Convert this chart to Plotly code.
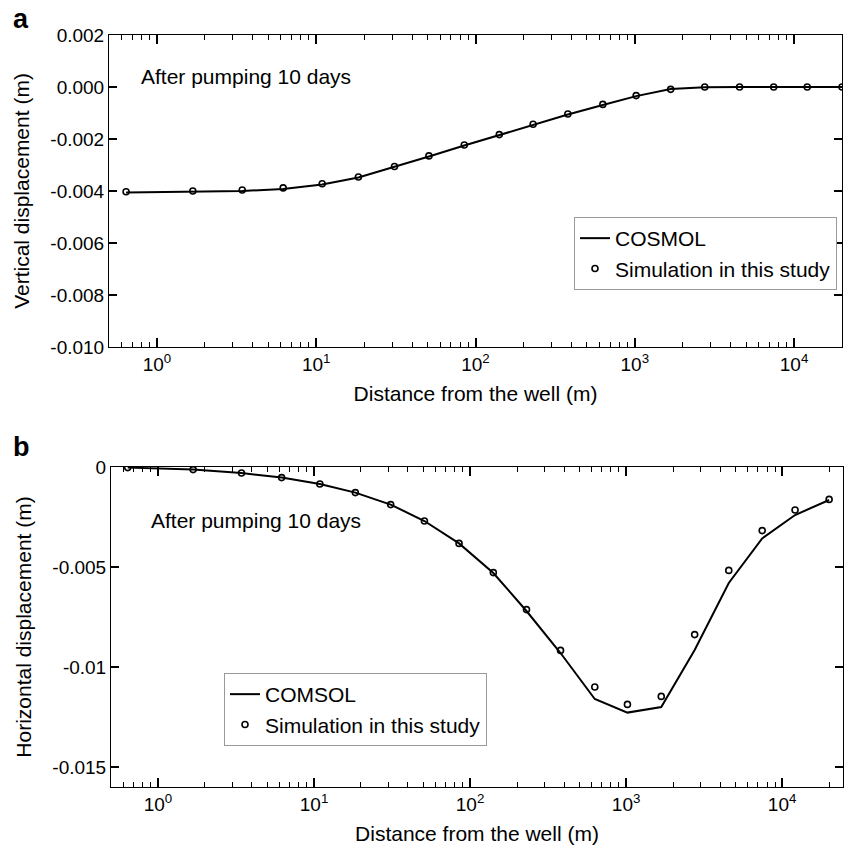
import plotly.graph_objects as go
import math

# ---------------- data ----------------
distance = [0.64, 1.68, 3.43, 6.2, 10.9, 18.4, 31, 51, 85, 141, 230, 380, 630,
            1020, 1680, 2750, 4550, 7450, 12100, 20000]

vert_comsol = [-0.00406, -0.00404, -0.00400, -0.00392, -0.00375, -0.00348, -0.00308,
               -0.00267, -0.00225, -0.00185, -0.00145, -0.00106, -0.00069, -0.00035,
               -0.00008, -0.00001, 0.0, 0.0, 0.0, 0.0]
vert_sim = [-0.00403, -0.00400, -0.00396, -0.00388, -0.00372, -0.00346, -0.00306,
            -0.00265, -0.00223, -0.00183, -0.00143, -0.00104, -0.00067, -0.00033,
            -0.00009, 0.0, 0.0, 0.0, 0.0, 0.0]

horiz_comsol = [-0.00003, -0.00013, -0.00030, -0.00053, -0.00085, -0.00128, -0.00188,
                -0.00270, -0.00382, -0.00530, -0.00720, -0.00930, -0.01160, -0.01228,
                -0.01200, -0.00915, -0.00580, -0.00357, -0.00240, -0.00165]
horiz_sim = [-0.00003, -0.00013, -0.00030, -0.00053, -0.00085, -0.00128, -0.00188,
             -0.00270, -0.00382, -0.00528, -0.00713, -0.00917, -0.01100, -0.01187,
             -0.01147, -0.00838, -0.00517, -0.00318, -0.00215, -0.00162]

x_major = [1, 10, 100, 1000, 10000]
x_major_text = ["10<sup>0</sup>", "10<sup>1</sup>", "10<sup>2</sup>", "10<sup>3</sup>", "10<sup>4</sup>"]

vert_ticks = [0.002, 0.0, -0.002, -0.004, -0.006, -0.008, -0.010]
vert_tick_text = ["0.002", "0.000", "-0.002", "-0.004", "-0.006", "-0.008", "-0.010"]
horiz_ticks = [0.0, -0.005, -0.01, -0.015]
horiz_tick_text = ["0", "-0.005", "-0.01", "-0.015"]

FONT = "Liberation Sans, Arial, sans-serif"
W, H = 846, 851
ML, MR, MT, MB = 109, 2, 35, 64
PW, PH = W - ML - MR, H - MT - MB


def px(xp):
    return (xp - ML) / PW


def py(yp):
    return 1 - (yp - MT) / PH


def clamp(v):
    return max(0.0, min(1.0, v))


fig = go.Figure()

line_style = dict(color="black", width=2)
marker_style = dict(symbol="circle-open", size=6, color="black", line=dict(width=1.6, color="black"))

fig.add_trace(go.Scatter(x=distance, y=vert_comsol, mode="lines", line=line_style,
                         name="COSMOL", xaxis="x", yaxis="y", legend="legend"))
fig.add_trace(go.Scatter(x=distance, y=vert_sim, mode="markers", marker=marker_style,
                         name="Simulation in this study", xaxis="x", yaxis="y", legend="legend"))
fig.add_trace(go.Scatter(x=distance, y=horiz_comsol, mode="lines", line=line_style,
                         name="COMSOL", xaxis="x2", yaxis="y2", legend="legend2"))
fig.add_trace(go.Scatter(x=distance, y=horiz_sim, mode="markers", marker=marker_style,
                         name="Simulation in this study", xaxis="x2", yaxis="y2", legend="legend2"))

X1_RANGE = [math.log10(0.5), math.log10(20000)]
X2_RANGE = [math.log10(0.5), 4.39]
X1_DOM = [clamp(px(109)), clamp(px(842))]
X2_DOM = [clamp(px(111)), clamp(px(843))]


def xaxis_common(rng, domain, **kw):
    d = dict(type="log", range=rng, domain=domain,
             tickmode="array", tickvals=x_major, ticktext=x_major_text,
             ticks="inside", ticklen=9, tickwidth=2, tickcolor="#000000",
             minor=dict(ticks="inside", ticklen=5, tickwidth=1, tickcolor="#000000",
                        dtick="D1"),
             showline=True, linecolor="black", mirror="allticks",
             gridcolor="rgba(0,0,0,0)",
             tickfont=dict(family=FONT, size=19, color="black"),
             title=dict(text="Distance from the well (m)",
                        font=dict(family=FONT, size=21, color="black"), standoff=12))
    d.update(kw)
    return d


def yaxis_common(rng, domain, vals, text, title, **kw):
    d = dict(range=rng, domain=domain,
             tickmode="array", tickvals=vals, ticktext=text,
             ticks="inside", ticklen=8, tickwidth=2, tickcolor="#000000",
             showline=True, linecolor="black", mirror="allticks",
             gridcolor="rgba(0,0,0,0)", zeroline=False,
             tickfont=dict(family=FONT, size=19, color="black"),
             title=dict(text=title, font=dict(family=FONT, size=21, color="black"), standoff=14))
    d.update(kw)
    return d


fig.update_layout(
    width=W, height=H,
    margin=dict(l=ML, r=MR, t=MT, b=MB),
    plot_bgcolor="white",
    font=dict(family=FONT, color="black"),
    xaxis=xaxis_common(X1_RANGE, X1_DOM),
    yaxis=yaxis_common([-0.010, 0.002], [clamp(py(347)), clamp(py(35))], vert_ticks, vert_tick_text,
                       "Vertical displacement (m)"),
    xaxis2=xaxis_common(X2_RANGE, X2_DOM, anchor="y2"),
    yaxis2=yaxis_common([-0.016, 0.0], [clamp(py(787)), clamp(py(467))], horiz_ticks, horiz_tick_text,
                        "Horizontal displacement (m)", anchor="x2"),
    legend=dict(x=px(574), y=py(217), xanchor="left", yanchor="top",
                bordercolor="#999999", borderwidth=1, bgcolor="white",
                font=dict(family=FONT, size=21, color="black"),
                tracegroupgap=0, itemwidth=30),
    legend2=dict(x=px(224), y=py(673), xanchor="left", yanchor="top",
                 bordercolor="#999999", borderwidth=1, bgcolor="white",
                 font=dict(family=FONT, size=21, color="black"),
                 tracegroupgap=0, itemwidth=30),
    showlegend=True,
)

annotations = [
    dict(text="<b>a</b>", x=px(21), y=py(19), xref="paper", yref="paper",
         xanchor="center", yanchor="middle",
         showarrow=False, font=dict(family=FONT, size=27, color="black")),
    dict(text="<b>b</b>", x=px(21), y=py(447), xref="paper", yref="paper",
         xanchor="center", yanchor="middle",
         showarrow=False, font=dict(family=FONT, size=27, color="black")),
    dict(text="After pumping 10 days", x=px(139), y=py(76), xref="paper", yref="paper",
         xanchor="left", yanchor="middle", showarrow=False,
         font=dict(family=FONT, size=21, color="black")),
    dict(text="After pumping 10 days", x=px(149), y=py(520), xref="paper", yref="paper",
         xanchor="left", yanchor="middle", showarrow=False,
         font=dict(family=FONT, size=21, color="black")),
]
fig.update_layout(annotations=annotations)

fig.write_html("out.html")
